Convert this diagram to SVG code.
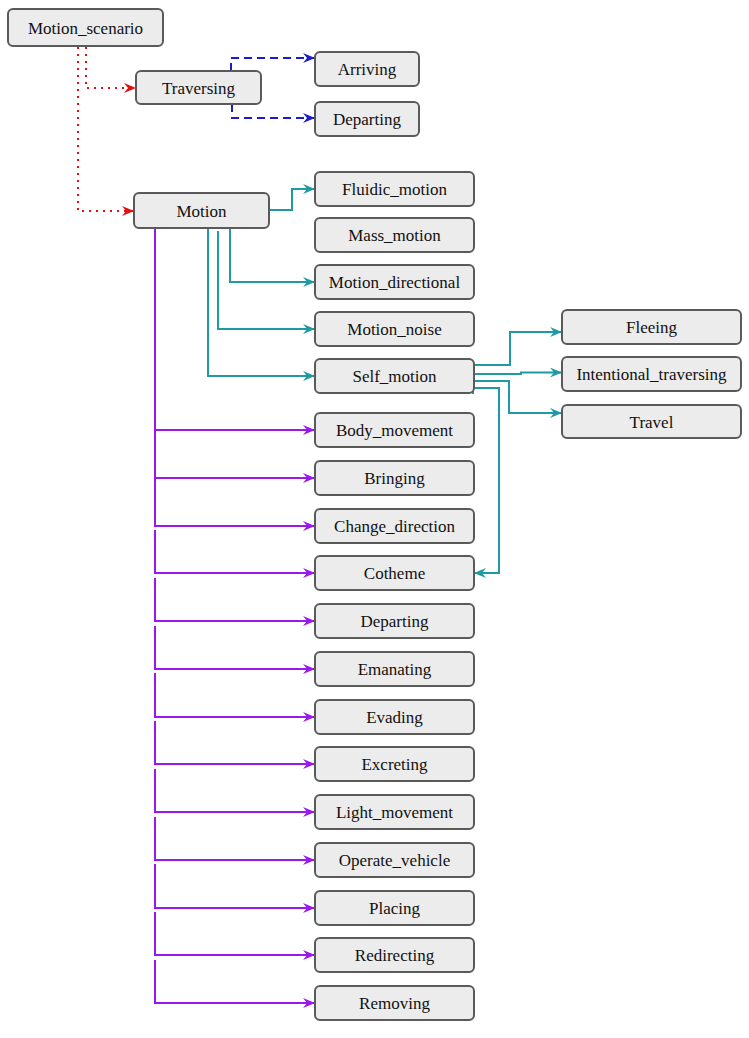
<svg xmlns="http://www.w3.org/2000/svg" width="749" height="1038" viewBox="0 0 749 1038">
<style>
.n rect{fill:#ececec;stroke:#5a5a5a;stroke-width:2}
.n text{font-size:17px;fill:#111;text-anchor:middle;dominant-baseline:central}
.c path{fill:none;stroke-width:2}
.red{stroke:#e01010;stroke-dasharray:2 5}
.blue{stroke:#1a1ad0;stroke-dasharray:8 5}
.teal{stroke:#1f9aa3}
.pur{stroke:#9b17f0}
</style>
<defs>
<marker id="ar" viewBox="0 0 12 10" refX="11" refY="5" markerWidth="12" markerHeight="10" markerUnits="userSpaceOnUse" orient="auto"><path d="M0,0 L12,5 L0,10 L4,5 z" fill="#e01010"/></marker>
<marker id="ab" viewBox="0 0 12 10" refX="11" refY="5" markerWidth="12" markerHeight="10" markerUnits="userSpaceOnUse" orient="auto"><path d="M0,0 L12,5 L0,10 L4,5 z" fill="#1a1ad0"/></marker>
<marker id="at" viewBox="0 0 12 10" refX="11" refY="5" markerWidth="12" markerHeight="10" markerUnits="userSpaceOnUse" orient="auto"><path d="M0,0 L12,5 L0,10 L4,5 z" fill="#1f9aa3"/></marker>
<marker id="ap" viewBox="0 0 12 10" refX="11" refY="5" markerWidth="12" markerHeight="10" markerUnits="userSpaceOnUse" orient="auto"><path d="M0,0 L12,5 L0,10 L4,5 z" fill="#9b17f0"/></marker>
</defs>
<g id="connectors" class="c">
<path class="red" d="M86,47 V88 H135" marker-end="url(#ar)"/>
<path class="red" d="M78,47 V211 H133" marker-end="url(#ar)"/>
<path class="blue" d="M231,71 V58 H314" marker-end="url(#ab)"/>
<path class="blue" d="M232,104 V118 H314" marker-end="url(#ab)"/>
<path class="teal" d="M269,210 H292 V189 H314" marker-end="url(#at)"/>
<path class="teal" d="M230,228 V282 H314" marker-end="url(#at)"/>
<path class="teal" d="M218,231 V329 H314" marker-end="url(#at)"/>
<path class="teal" d="M208,228 V376 H314" marker-end="url(#at)"/>
<path class="teal" d="M474,365 H510 V332 H561" marker-end="url(#at)"/>
<path class="teal" d="M474,374 H521 V372.5 H561" marker-end="url(#at)"/>
<path class="teal" d="M474,381 H509 V413 H561" marker-end="url(#at)"/>
<path class="teal" d="M473,394 V388 H499 V573 H475" marker-end="url(#at)"/>
<path class="pur" d="M155,228 V430 H314" marker-end="url(#ap)"/>
<path class="pur" d="M155,228 V478 H314" marker-end="url(#ap)"/>
<path class="pur" d="M155,228 V526 H314" marker-end="url(#ap)"/>
<path class="pur" d="M155,530 V573 H314" marker-end="url(#ap)"/>
<path class="pur" d="M155,578 V621 H314" marker-end="url(#ap)"/>
<path class="pur" d="M155,626 V669 H314" marker-end="url(#ap)"/>
<path class="pur" d="M155,673 V717 H314" marker-end="url(#ap)"/>
<path class="pur" d="M155,721 V764 H314" marker-end="url(#ap)"/>
<path class="pur" d="M155,769 V812 H314" marker-end="url(#ap)"/>
<path class="pur" d="M155,817 V860 H314" marker-end="url(#ap)"/>
<path class="pur" d="M155,864 V908 H314" marker-end="url(#ap)"/>
<path class="pur" d="M155,912 V955 H314" marker-end="url(#ap)"/>
<path class="pur" d="M155,960 V1003 H314" marker-end="url(#ap)"/>
</g>
<g id="nodes" font-family="'Liberation Serif', 'Times New Roman', 'DejaVu Serif', serif">
<g id="n_motion_scenario" class="n"><rect x="8" y="9" width="155" height="37" rx="5"/><text x="85.5" y="28">Motion_scenario</text></g>
<g id="n_traversing" class="n"><rect x="136" y="71" width="125" height="33" rx="5"/><text x="198.5" y="88">Traversing</text></g>
<g id="n_arriving" class="n"><rect x="315" y="52" width="104" height="34" rx="5"/><text x="367" y="69.5">Arriving</text></g>
<g id="n_departing_t" class="n"><rect x="315" y="102" width="104" height="34" rx="5"/><text x="367" y="119.5">Departing</text></g>
<g id="n_motion" class="n"><rect x="134" y="193" width="135" height="35" rx="5"/><text x="201.5" y="211">Motion</text></g>
<g id="n_fluidic" class="n"><rect x="315" y="172" width="159" height="34" rx="5"/><text x="394.5" y="189.5">Fluidic_motion</text></g>
<g id="n_mass" class="n"><rect x="315" y="218" width="159" height="34" rx="5"/><text x="394.5" y="235.5">Mass_motion</text></g>
<g id="n_directional" class="n"><rect x="315" y="265" width="159" height="34" rx="5"/><text x="394.5" y="282.5">Motion_directional</text></g>
<g id="n_noise" class="n"><rect x="315" y="312" width="159" height="34" rx="5"/><text x="394.5" y="329.5">Motion_noise</text></g>
<g id="n_self" class="n"><rect x="315" y="359" width="159" height="34" rx="5"/><text x="394.5" y="376.5">Self_motion</text></g>
<g id="n_fleeing" class="n"><rect x="562" y="310" width="179" height="34" rx="5"/><text x="651.5" y="327.5">Fleeing</text></g>
<g id="n_intentional" class="n"><rect x="562" y="357" width="179" height="34" rx="5"/><text x="651.5" y="374.5">Intentional_traversing</text></g>
<g id="n_travel" class="n"><rect x="562" y="405" width="179" height="33" rx="5"/><text x="651.5" y="422">Travel</text></g>
<g id="n_body" class="n"><rect x="315" y="413" width="159" height="34" rx="5"/><text x="394.5" y="430.5">Body_movement</text></g>
<g id="n_bringing" class="n"><rect x="315" y="461" width="159" height="34" rx="5"/><text x="394.5" y="478.5">Bringing</text></g>
<g id="n_change" class="n"><rect x="315" y="509" width="159" height="34" rx="5"/><text x="394.5" y="526.5">Change_direction</text></g>
<g id="n_cotheme" class="n"><rect x="315" y="556" width="159" height="34" rx="5"/><text x="394.5" y="573.5">Cotheme</text></g>
<g id="n_departing" class="n"><rect x="315" y="604" width="159" height="34" rx="5"/><text x="394.5" y="621.5">Departing</text></g>
<g id="n_emanating" class="n"><rect x="315" y="652" width="159" height="34" rx="5"/><text x="394.5" y="669.5">Emanating</text></g>
<g id="n_evading" class="n"><rect x="315" y="700" width="159" height="34" rx="5"/><text x="394.5" y="717.5">Evading</text></g>
<g id="n_excreting" class="n"><rect x="315" y="747" width="159" height="34" rx="5"/><text x="394.5" y="764.5">Excreting</text></g>
<g id="n_light" class="n"><rect x="315" y="795" width="159" height="34" rx="5"/><text x="394.5" y="812.5">Light_movement</text></g>
<g id="n_operate" class="n"><rect x="315" y="843" width="159" height="34" rx="5"/><text x="394.5" y="860.5">Operate_vehicle</text></g>
<g id="n_placing" class="n"><rect x="315" y="891" width="159" height="34" rx="5"/><text x="394.5" y="908.5">Placing</text></g>
<g id="n_redirecting" class="n"><rect x="315" y="938" width="159" height="34" rx="5"/><text x="394.5" y="955.5">Redirecting</text></g>
<g id="n_removing" class="n"><rect x="315" y="986" width="159" height="34" rx="5"/><text x="394.5" y="1003.5">Removing</text></g>
</g>
</svg>
